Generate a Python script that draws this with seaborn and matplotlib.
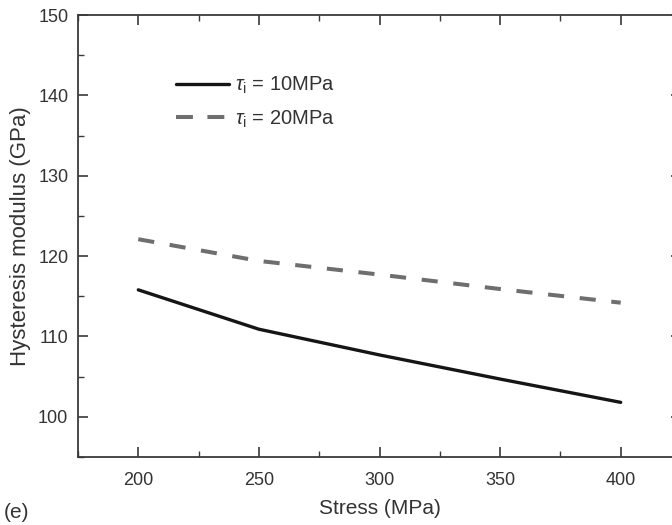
import matplotlib
matplotlib.use("Agg")
import matplotlib.pyplot as plt
from matplotlib.ticker import MultipleLocator
import seaborn as sns
import pandas as pd

stress = [200, 250, 300, 350, 400]
modulus_tau10 = [115.8, 110.9, 107.7, 104.7, 101.8]
modulus_tau20 = [122.1, 119.4, 117.7, 115.9, 114.2]
labels = [r"$\tau_\mathrm{i}$ = 10MPa", r"$\tau_\mathrm{i}$ = 20MPa"]

sns.set_theme(style="ticks")
plt.rcParams["font.family"] = ["Liberation Sans", "DejaVu Sans"]
plt.rcParams["mathtext.fontset"] = "custom"
plt.rcParams["mathtext.rm"] = "Liberation Sans"
plt.rcParams["mathtext.it"] = "Liberation Sans:italic"

fig = plt.figure(figsize=(6.72, 5.25), dpi=100)
ax = fig.add_axes([78/672, 1 - 457/525, (681 - 78)/672, (457 - 15)/525])

df1 = pd.DataFrame({"Stress": stress, "Modulus": modulus_tau10})
df2 = pd.DataFrame({"Stress": stress, "Modulus": modulus_tau20})

sns.lineplot(data=df1, x="Stress", y="Modulus", ax=ax, color="#151515",
             linewidth=2.4, label=labels[0])
sns.lineplot(data=df2, x="Stress", y="Modulus", ax=ax, color="#6e6e6e",
             linewidth=2.9, label=labels[1], dashes=False)
ax.lines[1].set_dashes((4.0, 3.9))

ax.set_xlim(175, 425)
ax.set_ylim(95, 150)
ax.xaxis.set_major_locator(MultipleLocator(50))
ax.xaxis.set_minor_locator(MultipleLocator(25))
ax.yaxis.set_major_locator(MultipleLocator(10))
ax.yaxis.set_minor_locator(MultipleLocator(5))
ax.set_yticks([100, 110, 120, 130, 140, 150])

for s in ax.spines.values():
    s.set_visible(True)
    s.set_color("#3a3a3a")
    s.set_linewidth(1.3)

ax.tick_params(which="both", direction="in", top=True, right=True,
               colors="#3a3a3a", labelcolor="#333333", labelsize=13)
ax.tick_params(which="major", length=7, width=1.2)
ax.tick_params(which="minor", length=4, width=1.0)
ax.tick_params(axis="x", which="major", pad=11)
ax.tick_params(axis="y", which="major", pad=7)

ax.set_xlabel("Stress (MPa)", fontsize=15, color="#333333", labelpad=7)
ax.set_ylabel("Hysteresis modulus (GPa)", fontsize=16, color="#333333", labelpad=5)

leg = ax.legend(loc="upper left", bbox_to_anchor=(0.133, 0.905), frameon=False,
                fontsize=14.5, handlelength=2.6, handletextpad=0.3,
                labelspacing=0.6, labelcolor="#333333")
leg.get_lines()[1].set_dashes((4.2, 3.6))

fig.text(4/672, 1 - 512/525, "(e)", fontsize=15, color="#333333", va="center")

fig.savefig("out.png", dpi=100, facecolor="white")
